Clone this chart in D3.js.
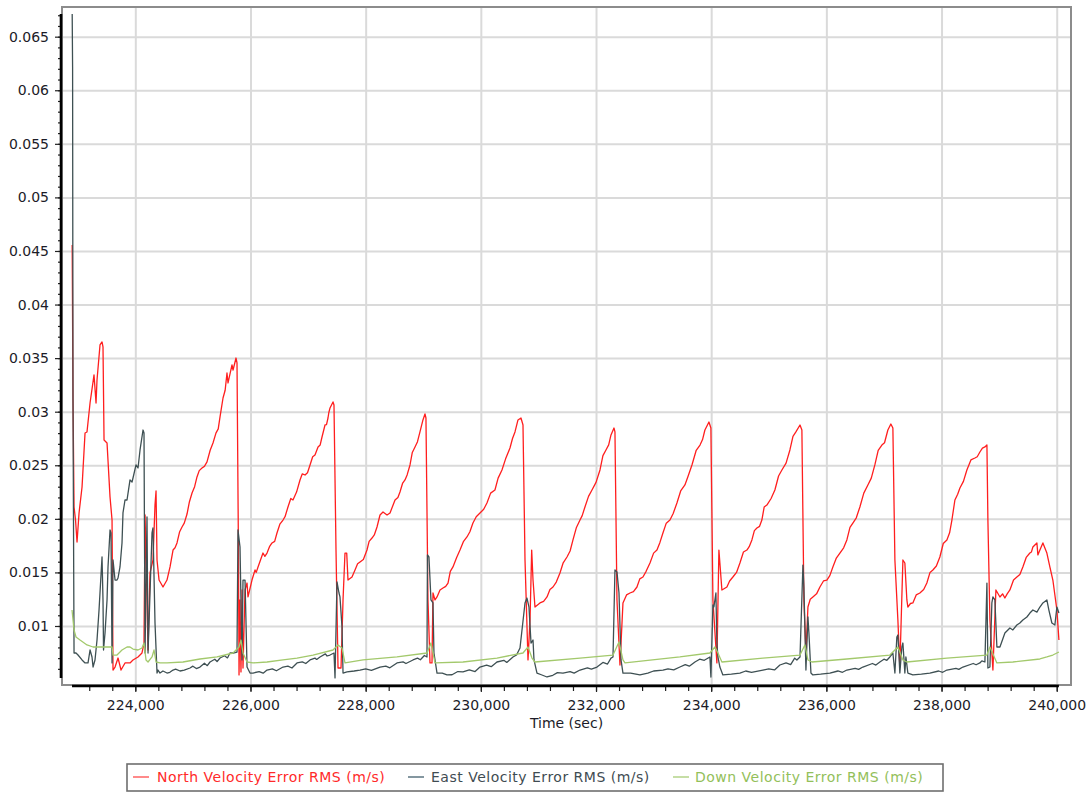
<!DOCTYPE html>
<html><head><meta charset="utf-8">
<script src="https://cdn.jsdelivr.net/npm/d3@7"></script>
<style>
html,body{margin:0;padding:0;background:#fff;}
svg text{font-family:"DejaVu Sans",Verdana,sans-serif;}
</style></head>
<body><svg id="chart" width="1089" height="793"></svg>
<script>
// ---- data (time in sec, value in m/s) ----
const seriesNames = ["North Velocity Error RMS (m/s)", "East Velocity Error RMS (m/s)", "Down Velocity Error RMS (m/s)"];
const xTicks = [224000, 226000, 228000, 230000, 232000, 234000, 236000, 238000, 240000];
const yTicks = [0.01, 0.015, 0.02, 0.025, 0.03, 0.035, 0.04, 0.045, 0.05, 0.055, 0.06, 0.065];
const xTitle = "Time (sec)";

const north = [
[222904,0.04556],[222918,0.03109],[222936,0.02111],[222962,0.01989],[222988,0.01784],[223023,0.02055],[223075,0.02297],[223127,0.02801],[223161,0.02811],[223214,0.03081],[223283,0.03343],[223318,0.03081],[223335,0.03296],[223387,0.03623],[223422,0.03651],[223439,0.03604],[223457,0.02736],[223509,0.02708],[223561,0.02204],[223596,0.01989],[223613,0.00589],[223648,0.00617],[223700,0.00701],[223752,0.00589],[223821,0.00655],[223908,0.00655],[223960,0.00683],[224047,0.00711],[224116,0.00748],[224151,0.00841],[224169,0.02036],[224203,0.01243],[224221,0.00776],[224255,0.01495],[224307,0.01616],[224342,0.02129],[224360,0.02260],[224377,0.01616],[224412,0.01429],[224481,0.01364],[224550,0.01429],[224603,0.01551],[224655,0.01709],[224690,0.01730],[224724,0.01775],[224770,0.01880],[224811,0.01924],[224850,0.01960],[224898,0.02045],[224940,0.02160],[224985,0.02241],[225030,0.02300],[225071,0.02391],[225110,0.02450],[225158,0.02475],[225200,0.02490],[225245,0.02531],[225300,0.02640],[225349,0.02708],[225400,0.02800],[225440,0.02840],[225471,0.02951],[225523,0.03128],[225560,0.03200],[225592,0.03361],[225610,0.03268],[225679,0.03436],[225697,0.03389],[225749,0.03501],[225766,0.03455],
[225792,0.01616],[225801,0.00543],[225818,0.01243],[225835,0.00571],[225853,0.01336],[225870,0.00608],[225905,0.01336],[225940,0.01401],[225957,0.01271],[226026,0.01429],[226079,0.01523],[226100,0.01500],[226131,0.01551],[226217,0.01681],[226250,0.01650],[226287,0.01681],[226330,0.01740],[226374,0.01775],[226420,0.01790],[226460,0.01868],[226510,0.01950],[226565,0.01989],[226600,0.02020],[226651,0.02111],[226700,0.02190],[226738,0.02176],[226800,0.02250],[226860,0.02363],[226900,0.02420],[226947,0.02409],[226990,0.02430],[227034,0.02503],[227080,0.02580],[227120,0.02596],[227173,0.02671],[227210,0.02690],[227242,0.02764],[227294,0.02876],[227320,0.02880],[227346,0.02941],[227360,0.02990],[227381,0.03035],[227433,0.03091],[227450,0.03063],
[227485,0.01709],[227520,0.00608],[227572,0.00608],[227607,0.01243],[227641,0.01681],[227671,0.01681],[227693,0.01429],[227763,0.01457],[227815,0.01523],[227860,0.01580],[227902,0.01597],[227960,0.01620],[228023,0.01709],[228060,0.01790],[228110,0.01821],[228150,0.01850],[228197,0.01924],[228249,0.02036],[228301,0.02064],[228371,0.02036],[228423,0.02055],[228510,0.02176],[228560,0.02200],[228596,0.02251],[228640,0.02330],[228683,0.02363],[228720,0.02410],[228770,0.02503],[228810,0.02620],[228857,0.02671],[228900,0.02720],[228943,0.02811],[228995,0.02923],[229030,0.02979],[229047,0.02941],
[229082,0.01243],[229117,0.00655],[229152,0.00655],[229169,0.01308],[229204,0.01243],[229239,0.01271],[229291,0.01336],[229343,0.01355],[229390,0.01370],[229430,0.01401],[229470,0.01510],[229516,0.01551],[229580,0.01640],[229638,0.01709],[229700,0.01790],[229759,0.01831],[229810,0.01880],[229863,0.01961],[229920,0.02020],[229985,0.02055],[230050,0.02090],[230106,0.02148],[230170,0.02240],[230245,0.02269],[230300,0.02380],[230367,0.02456],[230430,0.02560],[230506,0.02661],[230550,0.02750],[230593,0.02811],[230645,0.02923],[230697,0.02941],[230732,0.02876],
[230767,0.01616],[230819,0.00683],[230854,0.01056],[230883,0.01709],[230906,0.01429],[230940,0.01177],[231027,0.01215],[231090,0.01230],[231149,0.01271],[231200,0.01340],[231253,0.01364],[231310,0.01410],[231374,0.01495],[231430,0.01590],[231496,0.01644],[231550,0.01700],[231600,0.01803],[231660,0.01920],[231722,0.01989],[231760,0.02030],[231808,0.02111],[231870,0.02210],[231930,0.02269],[232000,0.02340],[232069,0.02456],[232120,0.02590],[232173,0.02643],[232220,0.02690],[232260,0.02783],[232312,0.02848],[232329,0.02811],
[232364,0.01243],[232416,0.00636],[232468,0.01215],[232530,0.01290],[232590,0.01308],[232650,0.01320],[232711,0.01364],[232760,0.01440],[232815,0.01457],[232870,0.01510],[232937,0.01588],[233000,0.01680],[233058,0.01709],[233110,0.01780],[233162,0.01868],[233220,0.01960],[233284,0.01989],[233340,0.02050],[233405,0.02148],[233470,0.02260],[233544,0.02316],[233600,0.02400],[233666,0.02503],[233740,0.02640],[233806,0.02689],[233850,0.02740],[233891,0.02829],[233961,0.02904],[233995,0.02848],
[234030,0.01243],[234099,0.00655],[234134,0.01709],[234186,0.01336],[234230,0.01350],[234273,0.01364],[234320,0.01420],[234377,0.01457],[234440,0.01500],[234499,0.01588],[234560,0.01690],[234620,0.01709],[234660,0.01740],[234707,0.01803],[234750,0.01890],[234794,0.01915],[234840,0.01930],[234880,0.01989],[234920,0.02110],[234967,0.02129],[235040,0.02190],[235106,0.02269],[235170,0.02400],[235228,0.02456],[235300,0.02520],[235367,0.02643],[235420,0.02770],[235471,0.02811],[235542,0.02876],[235575,0.02829],
[235610,0.01243],[235645,0.00748],[235680,0.01177],[235720,0.01250],[235766,0.01271],[235830,0.01300],[235888,0.01364],[235950,0.01420],[236009,0.01429],[236060,0.01470],[236113,0.01551],[236170,0.01630],[236235,0.01681],[236300,0.01730],[236356,0.01803],[236410,0.01920],[236460,0.01961],[236520,0.02010],[236582,0.02111],[236650,0.02240],[236721,0.02316],[236780,0.02380],[236842,0.02503],[236900,0.02640],[236964,0.02689],[237010,0.02710],[237068,0.02829],[237120,0.02885],[237155,0.02848],
[237190,0.01616],[237242,0.01056],[237276,0.00617],[237329,0.01616],[237363,0.01588],[237398,0.01243],[237415,0.01177],[237460,0.01210],[237502,0.01215],[237560,0.01290],[237624,0.01308],[237690,0.01340],[237745,0.01401],[237800,0.01500],[237850,0.01523],[237910,0.01560],[237971,0.01644],[238030,0.01770],[238093,0.01803],[238140,0.01870],[238180,0.01989],[238232,0.02176],[238280,0.02230],[238319,0.02288],[238380,0.02350],[238440,0.02456],[238510,0.02550],[238579,0.02568],[238620,0.02580],[238666,0.02624],[238710,0.02660],[238753,0.02671],[238788,0.02689],
[238805,0.01989],[238840,0.01056],[238892,0.00589],[238944,0.01336],[239014,0.01271],[239060,0.01300],[239100,0.01261],[239140,0.01300],[239187,0.01336],[239250,0.01430],[239308,0.01457],[239360,0.01480],[239412,0.01551],[239470,0.01640],[239534,0.01681],[239560,0.01690],[239586,0.01737],[239656,0.01775],[239673,0.01663],[239708,0.01709],[239760,0.01775],[239829,0.01681],[239881,0.01551],[239933,0.01429],[240003,0.01149],[240038,0.00869]
];

const east = [
[222904,0.06712],[222911,0.06217],[222918,0.03109],[222936,0.00748],[222970,0.00748],[223005,0.00729],[223075,0.00683],[223127,0.00655],[223179,0.00655],[223214,0.00776],[223248,0.00711],[223266,0.00617],[223300,0.00683],[223335,0.00869],[223370,0.01149],[223422,0.01644],[223439,0.01243],[223448,0.00776],[223474,0.00935],[223509,0.01243],[223526,0.01551],[223561,0.01896],[223578,0.01868],[223596,0.00655],[223613,0.01616],[223648,0.01429],[223682,0.01429],[223700,0.01448],[223734,0.01551],[223769,0.01775],[223786,0.02055],[223821,0.02176],[223856,0.02176],[223908,0.02363],[223943,0.02344],[223960,0.02381],[224012,0.02503],[224047,0.02475],[224082,0.02643],[224134,0.02829],[224151,0.02801],[224169,0.00748],[224203,0.02017],[224221,0.00748],[224290,0.01868],[224307,0.01915],[224342,0.01028],[224377,0.00561],[224394,0.00589],[224429,0.00561],
[224480,0.00580],[224550,0.00561],[224600,0.00568],[224655,0.00589],[224700,0.00598],[224776,0.00580],[224850,0.00588],[224950,0.00608],[225000,0.00625],[225060,0.00603],[225123,0.00617],[225200,0.00652],[225250,0.00630],[225297,0.00664],[225380,0.00690],[225420,0.00668],[225471,0.00701],[225550,0.00722],[225600,0.00702],[225644,0.00748],[225700,0.00748],[225766,0.00757],
[225783,0.01896],[225818,0.01737],[225853,0.00683],[225870,0.01429],[225905,0.01429],[225940,0.00617],[225992,0.00561],[226044,0.00561],[226150,0.00575],[226220,0.00560],[226287,0.00589],[226380,0.00600],[226450,0.00582],[226565,0.00617],[226650,0.00625],[226720,0.00608],[226808,0.00655],[226900,0.00665],[226960,0.00650],[227034,0.00683],[227120,0.00700],[227150,0.00688],[227207,0.00711],[227300,0.00740],[227330,0.00720],[227381,0.00729],[227450,0.00748],
[227468,0.00515],[227502,0.01411],[227537,0.01308],[227554,0.01271],[227589,0.00991],[227607,0.00561],[227676,0.00571],[227800,0.00580],[227902,0.00589],[228000,0.00600],[228100,0.00585],[228249,0.00617],[228350,0.00625],[228420,0.00610],[228544,0.00655],[228650,0.00665],[228700,0.00650],[228822,0.00683],[228900,0.00700],[228950,0.00685],[229020,0.00725],[229065,0.00711],
[229073,0.01663],[229099,0.01644],[229134,0.01243],[229169,0.01215],[229186,0.00748],[229239,0.00561],[229330,0.00560],[229412,0.00543],[229500,0.00545],[229600,0.00575],[229690,0.00571],[229800,0.00590],[229900,0.00575],[229985,0.00617],[230100,0.00635],[230180,0.00620],[230280,0.00664],[230400,0.00680],[230450,0.00660],[230558,0.00711],[230620,0.00730],[230680,0.00795],
[230767,0.01215],[230801,0.01261],[230836,0.01177],[230871,0.00841],[230906,0.00869],[230923,0.00683],[230975,0.00561],[231050,0.00545],[231149,0.00524],[231250,0.00540],[231330,0.00565],[231426,0.00561],[231550,0.00575],[231620,0.00560],[231722,0.00589],[231850,0.00610],[231920,0.00598],[232017,0.00617],[232120,0.00660],[232200,0.00645],[232260,0.00700],[232295,0.00711],
[232329,0.01523],[232364,0.01504],[232399,0.01308],[232434,0.00683],[232468,0.00561],[232600,0.00560],[232763,0.00543],[232900,0.00560],[233000,0.00580],[233162,0.00589],[233250,0.00600],[233350,0.00590],[233457,0.00617],[233550,0.00640],[233620,0.00625],[233718,0.00664],[233800,0.00690],[233880,0.00680],[233978,0.00711],
[233995,0.00524],[234030,0.01196],[234047,0.01177],[234082,0.01308],[234099,0.00841],[234117,0.00711],[234151,0.00617],[234203,0.00543],[234350,0.00550],[234499,0.00561],[234600,0.00580],[234700,0.00568],[234898,0.00589],[235000,0.00600],[235100,0.00590],[235193,0.00636],[235300,0.00655],[235380,0.00640],[235450,0.00700],[235488,0.00683],[235542,0.00711],
[235593,0.01569],[235610,0.01364],[235645,0.00589],[235680,0.01084],[235697,0.00935],[235732,0.00561],[235766,0.00543],[235900,0.00550],[236061,0.00561],[236200,0.00580],[236280,0.00568],[236356,0.00589],[236500,0.00605],[236560,0.00595],[236634,0.00617],[236800,0.00650],[236860,0.00635],[236929,0.00664],[237000,0.00690],[237050,0.00680],[237103,0.00711],[237155,0.00748],
[237190,0.00561],[237224,0.00897],[237242,0.00916],[237276,0.00561],[237311,0.00804],[237329,0.00841],[237363,0.00561],[237381,0.00711],[237415,0.00561],[237502,0.00543],[237650,0.00550],[237797,0.00561],[237950,0.00580],[238020,0.00568],[238093,0.00589],[238250,0.00605],[238300,0.00595],[238371,0.00617],[238550,0.00650],[238600,0.00638],[238666,0.00655],[238700,0.00675],[238753,0.00664],
[238788,0.01401],[238805,0.00608],[238840,0.00617],[238874,0.01215],[238892,0.01271],[238926,0.01243],[238961,0.00804],[239014,0.00804],[239100,0.00935],[239187,0.00981],[239239,0.00963],[239308,0.01009],[239360,0.01028],[239412,0.01056],[239482,0.01084],[239534,0.01121],[239586,0.01149],[239656,0.01130],[239708,0.01177],[239760,0.01215],[239829,0.01243],[239864,0.01149],[239916,0.01028],[239968,0.01009],[240003,0.01177],[240038,0.01121]
];

const down = [
[222901,0.01149],[222936,0.00963],[222970,0.00897],[223040,0.00869],[223161,0.00823],[223266,0.00804],[223387,0.00804],[223509,0.00804],[223596,0.00804],[223613,0.00729],[223682,0.00729],[223769,0.00776],[223856,0.00804],[223908,0.00804],[223960,0.00785],[224047,0.00776],[224116,0.00795],[224151,0.00841],[224186,0.00683],[224221,0.00664],[224290,0.00711],[224325,0.00776],[224360,0.00664],[224429,0.00655],[224550,0.00655],[224828,0.00664],[225123,0.00692],[225419,0.00711],[225697,0.00748],[225801,0.00804],[225835,0.00869],[225870,0.00748],[225940,0.00664],[226044,0.00655],[226287,0.00664],[226565,0.00683],[226808,0.00701],[227086,0.00729],[227433,0.00776],[227520,0.00823],[227589,0.00795],[227641,0.00655],[227954,0.00683],[228544,0.00711],[229065,0.00748],[229134,0.00841],[229169,0.00748],[229204,0.00655],[229690,0.00664],[230280,0.00701],[230732,0.00748],[230819,0.00804],[230888,0.00701],[230940,0.00664],[231722,0.00701],[232295,0.00729],[232399,0.00851],[232468,0.00683],[232503,0.00655],[233457,0.00711],[233978,0.00748],[234065,0.00804],[234117,0.00748],[234186,0.00664],[234898,0.00701],[235542,0.00729],[235627,0.00823],[235680,0.00683],[235749,0.00664],[236356,0.00692],[237103,0.00729],[237242,0.00804],[237329,0.00683],[237398,0.00664],[238093,0.00701],[238788,0.00729],[238840,0.00804],[238961,0.00655],[239239,0.00664],[239708,0.00692],[239829,0.00711],[239933,0.00729],[240038,0.00757]
];

const seriesColors = ["#ff1e1e", "#3e5053", "#a3c96c"];
const legendTextColors = ["#ff2a2a", "#3f4c52", "#93c05a"];
const legendSymbolColors = ["#ff8a8a", "#8497a0", "#c6dea6"];

// ---- drawing ----
const svg = d3.select("#chart");
const L = 62, R = 1071, T = 7, B = 685;
const x = d3.scaleLinear().domain([222727, 240248]).range([L, R]);
const y = d3.scaleLinear().domain([0.004493, 0.06777]).range([B, T]);

// gridlines
svg.append("g").attr("transform", `translate(0,${B})`)
  .call(d3.axisBottom(x).tickValues(xTicks).tickSize(-(B - T)).tickFormat(""))
  .call(g => g.select(".domain").remove())
  .selectAll("line").attr("stroke", "#dadada").attr("stroke-width", 2);
svg.append("g").attr("transform", `translate(${L},0)`)
  .call(d3.axisLeft(y).tickValues(yTicks).tickSize(-(R - L)).tickFormat(""))
  .call(g => g.select(".domain").remove())
  .selectAll("line").attr("stroke", "#dadada").attr("stroke-width", 2);

// frame
svg.append("rect").attr("x", L).attr("y", T).attr("width", R - L).attr("height", B - T)
  .attr("fill", "none").attr("stroke", "#8c8c8c").attr("stroke-width", 2);

// series
const allPts = north.concat(east, down);
const xExt = d3.extent(allPts, d => d[0]);
const yExt = d3.extent(allPts, d => d[1]);
const line = d3.line().x(d => x(d[0])).y(d => y(d[1]));
[north, east, down].forEach((s, i) => {
  svg.append("path").datum(s).attr("d", line).attr("fill", "none")
    .attr("stroke", seriesColors[i]).attr("stroke-width", 1.3).attr("stroke-linejoin", "round");
});

// y axis
const yAxisX = L - 1;
const minorY = d3.range(5, 68).map(v => v / 1000).filter(v => v >= yExt[0] - 1e-9 && v <= yExt[1] + 1e-9);
svg.append("g").attr("transform", `translate(${yAxisX},0)`)
  .call(d3.axisLeft(y).tickValues(minorY).tickSize(3).tickFormat(""))
  .call(g => g.select(".domain").remove())
  .selectAll("line").attr("stroke", "#222").attr("stroke-width", 1.2);
const yAx = svg.append("g").attr("transform", `translate(${yAxisX},0)`)
  .call(d3.axisLeft(y).tickValues(yTicks).tickSize(6).tickPadding(6).tickFormat(d => String(+d.toFixed(3))))
  .call(g => g.select(".domain").remove());
yAx.selectAll("line").attr("stroke", "#222").attr("stroke-width", 1.2);
yAx.selectAll("text").attr("font-size", "14px").attr("fill", "#1c1c28").attr("font-family", "DejaVu Sans");
svg.append("line").attr("x1", yAxisX).attr("x2", yAxisX).attr("y1", y(yExt[1])).attr("y2", y(yExt[0]))
  .attr("stroke", "#000").attr("stroke-width", 2.6);

// x axis
const xAxisY = B + 1;
const minorX = d3.range(222800, 240400, 400).filter(v => v >= xExt[0] && v <= xExt[1]);
svg.append("g").attr("transform", `translate(0,${xAxisY})`)
  .call(d3.axisBottom(x).tickValues(minorX).tickSize(5).tickFormat(""))
  .call(g => g.select(".domain").remove())
  .selectAll("line").attr("stroke", "#222").attr("stroke-width", 1.2);
const xAx = svg.append("g").attr("transform", `translate(0,${xAxisY})`)
  .call(d3.axisBottom(x).tickValues(xTicks).tickSize(6).tickPadding(8).tickFormat(d3.format(",")))
  .call(g => g.select(".domain").remove());
xAx.selectAll("line").attr("stroke", "#222").attr("stroke-width", 1.2);
xAx.selectAll("text").attr("font-size", "14px").attr("fill", "#1c1c28").attr("font-family", "DejaVu Sans");
svg.append("line").attr("x1", x(xExt[0])).attr("x2", x(xExt[1])).attr("y1", xAxisY).attr("y2", xAxisY)
  .attr("stroke", "#000").attr("stroke-width", 2.6);

svg.append("text").attr("x", (L + R) / 2).attr("y", 728).attr("text-anchor", "middle")
  .attr("font-size", "14px").attr("fill", "#1c1c28").text(xTitle);

// legend
svg.append("rect").attr("x", 127).attr("y", 764).attr("width", 816).attr("height", 27)
  .attr("fill", "#fff").attr("stroke", "#6e6e6e").attr("stroke-width", 1.6);
const symX = [133, 408, 673], txtX = [157, 431, 695];
seriesNames.forEach((n, i) => {
  svg.append("line").attr("x1", symX[i]).attr("x2", symX[i] + 16).attr("y1", 777).attr("y2", 777)
    .attr("stroke", legendSymbolColors[i]).attr("stroke-width", 2);
  svg.append("text").attr("x", txtX[i]).attr("y", 782).attr("font-size", "14px")
    .attr("letter-spacing", "0.5px").attr("fill", legendTextColors[i]).text(n);
});
</script></body></html>
